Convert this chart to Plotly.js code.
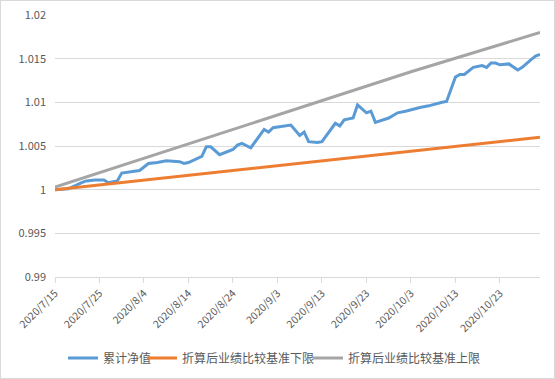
<!DOCTYPE html>
<html>
<head>
<meta charset="utf-8">
<script src="https://cdn.plot.ly/plotly-3.0.1.min.js"></script>
<style>
html,body{margin:0;padding:0;background:#fff;}
#chart{width:555px;height:379px;box-sizing:border-box;border:1px solid #D9D9D9;}
</style>
</head>
<body>
<div id="chart"></div>
<script>
// Cumulative NAV (累计净值)
const navDates = [
  '2020-07-15','2020-07-18','2020-07-21','2020-07-22','2020-07-24','2020-07-26','2020-07-27',
  '2020-07-29','2020-07-30','2020-08-02','2020-08-03','2020-08-05','2020-08-07','2020-08-09',
  '2020-08-12','2020-08-13','2020-08-14','2020-08-17','2020-08-18','2020-08-19','2020-08-21',
  '2020-08-24','2020-08-25','2020-08-26','2020-08-28','2020-08-31','2020-09-01','2020-09-02',
  '2020-09-06','2020-09-08','2020-09-09','2020-09-10','2020-09-12','2020-09-13','2020-09-16',
  '2020-09-17','2020-09-18','2020-09-20','2020-09-21','2020-09-23','2020-09-24','2020-09-25',
  '2020-09-28','2020-09-30','2020-10-02','2020-10-05','2020-10-07','2020-10-10','2020-10-11',
  '2020-10-13','2020-10-14','2020-10-15','2020-10-17','2020-10-19','2020-10-20','2020-10-21',
  '2020-10-22','2020-10-23','2020-10-25','2020-10-27','2020-10-28','2020-10-30','2020-10-31',
  '2020-11-01'
];
const navValues = [
  1.0000,1.0001,1.0008,1.0010,1.0011,1.0011,1.0008,
  1.0010,1.0019,1.0021,1.0022,1.0030,1.0031,1.0033,
  1.0032,1.0030,1.0031,1.0038,1.0049,1.0049,1.0040,
  1.0046,1.0051,1.0053,1.0048,1.0069,1.0066,1.0071,
  1.0074,1.0062,1.0066,1.0055,1.0054,1.0055,1.0076,
  1.0073,1.0080,1.0082,1.0097,1.0088,1.0090,1.0077,
  1.0082,1.0088,1.0090,1.0094,1.0096,1.0100,1.0101,
  1.0129,1.0132,1.0132,1.0140,1.0142,1.0140,1.0145,
  1.0145,1.0143,1.0144,1.0137,1.0140,1.0149,1.0153,
  1.0155
];
// Benchmark lower / upper bounds (折算后业绩比较基准下限 / 上限)
const benchDates = ['2020-07-15','2020-08-24','2020-10-03','2020-11-01'];
const lowerValues = [1.0000,1.0022,1.0044,1.0060];
const upperValues = [1.0003,1.0069,1.0135,1.0180];

const seriesNames = ['累计净值','折算后业绩比较基准下限','折算后业绩比较基准上限'];
const yTickVals = [0.99,0.995,1,1.005,1.01,1.015,1.02];
const yTickText = ['0.99','0.995','1','1.005','1.01','1.015','1.02'];

const lineW = 3;
const traces = [
  {x: navDates, y: navValues, name: seriesNames[0], type:'scatter', mode:'lines',
   line:{color:'#5B9BD5', width:lineW}, legend: 'legend'},
  {x: benchDates, y: lowerValues, name: seriesNames[1], type:'scatter', mode:'lines',
   line:{color:'#ED7D31', width:lineW}, legend: 'legend2'},
  {x: benchDates, y: upperValues, name: seriesNames[2], type:'scatter', mode:'lines',
   line:{color:'#A5A5A5', width:lineW}, legend: 'legend3'}
];

const font = '"Noto Sans CJK SC", "Noto Sans", sans-serif';
const W = 553;
function leg(px) {
  return {orientation: 'h', xref: 'container', x: px / W, xanchor: 'left',
          yref: 'container', y: 0.053, yanchor: 'middle',
          font: {family: font, size: 12, color: '#595959'}, itemwidth: 30,
          bgcolor: 'rgba(0,0,0,0)'};
}
const layout = {
  width: 553, height: 377,
  margin: {l: 54, r: 14, t: 14, b: 101, pad: 0},
  paper_bgcolor: '#fff', plot_bgcolor: '#fff',
  font: {family: font, size: 11, color: '#595959'},
  showlegend: true,
  legend: leg(62),
  legend2: leg(141),
  legend3: leg(307),
  xaxis: {
    type: 'date', range: ['2020-07-15','2020-11-01'],
    tick0: '2020-07-15', dtick: 10*86400000, tickformat: '%Y/%-m/%-d',
    tickangle: -45, ticks: 'outside', ticklen: 5, tickcolor: '#D9D9D9',
    showline: true, linecolor: '#D9D9D9', linewidth: 1,
    showgrid: false, zeroline: false,
    tickfont: {family: font, size: 10.5, color: '#595959'}
  },
  yaxis: {
    range: [0.99, 1.02], tickvals: yTickVals, ticktext: yTickText,
    showgrid: true, gridcolor: '#D9D9D9', gridwidth: 1, zeroline: false,
    showline: false, ticks: '', ticklabelstandoff: 8,
    tickfont: {family: font, size: 11, color: '#595959'}
  }
};
Plotly.newPlot('chart', traces, layout, {displayModeBar: false, staticPlot: true});
</script>
</body>
</html>
